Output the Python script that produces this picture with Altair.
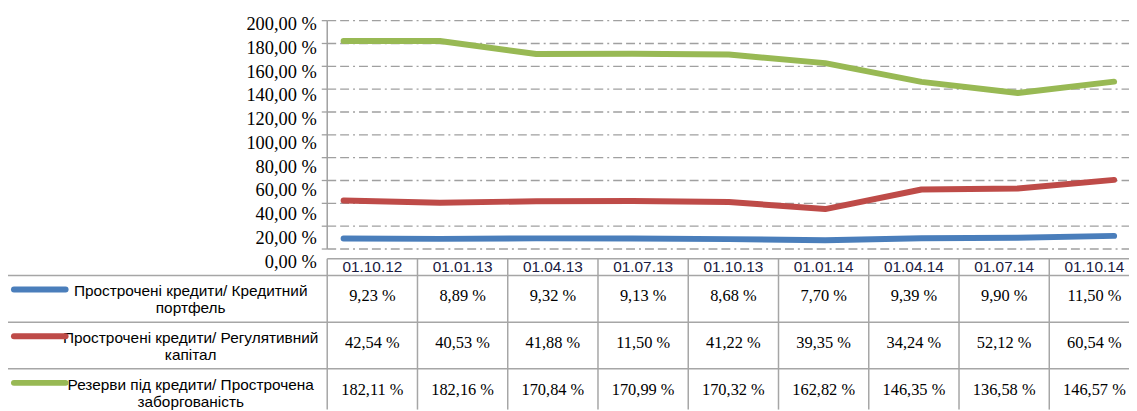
import altair as alt
import pandas as pd

dates = ["01.10.12", "01.01.13", "01.04.13", "01.07.13", "01.10.13",
         "01.01.14", "01.04.14", "01.07.14", "01.10.14"]
series = ["Прострочені кредити/ Кредитний портфель",
          "Прострочені кредити/ Регулятивний капітал",
          "Резерви під кредити/ Прострочена заборгованість"]
series_wrapped = ["Прострочені кредити/ Кредитний\nпортфель",
                  "Прострочені кредити/ Регулятивний\nкапітал",
                  "Резерви під кредити/ Прострочена\nзаборгованість"]
colors = ["#4a7ebb", "#be4b48", "#98b954"]

# line values
blue_vals = [9.23, 8.89, 9.32, 9.13, 8.68, 7.70, 9.39, 9.90, 11.50]
red_vals = [42.54, 40.53, 41.88, 42.0, 41.22, 35.0, 52.12, 53.0, 60.54]
green_vals = [182.11, 182.16, 170.84, 170.99, 170.32, 162.82, 146.35, 136.58, 146.57]

# table texts as printed
table_blue = ["9,23 %", "8,89 %", "9,32 %", "9,13 %", "8,68 %", "7,70 %", "9,39 %", "9,90 %", "11,50 %"]
table_red = ["42,54 %", "40,53 %", "41,88 %", "11,50 %", "41,22 %", "39,35 %", "34,24 %", "52,12 %", "60,54 %"]
table_green = ["182,11 %", "182,16 %", "170,84 %", "170,99 %", "170,32 %", "162,82 %", "146,35 %", "136,58 %", "146,57 %"]

y_ticks = [0, 20, 40, 60, 80, 100, 120, 140, 160, 180, 200]
y_tick_labels = ["0,00 %", "20,00 %", "40,00 %", "60,00 %", "80,00 %", "100,00 %",
                 "120,00 %", "140,00 %", "160,00 %", "180,00 %", "200,00 %"]

SERIF = "Liberation Serif, Times New Roman, DejaVu Serif, serif"
SANS = "Liberation Sans, Arial, sans-serif"

# ---------- data frames ----------
rows = []
for s, vals in zip(series, [blue_vals, red_vals, green_vals]):
    for i, (d, v) in enumerate(zip(dates, vals)):
        rows.append({"date": d, "series": s, "value": v, "i": i})
line_df = pd.DataFrame(rows)

cells = []
for s, labs in zip(series, [table_blue, table_red, table_green]):
    for d, l in zip(dates, labs):
        cells.append({"date": d, "series": s, "label": l})
cell_df = pd.DataFrame(cells)

ticks_df = pd.DataFrame({"v": y_ticks, "label": y_tick_labels})
series_df = pd.DataFrame({"series": series, "wrapped": series_wrapped})
dates_df = pd.DataFrame({"date": dates})
axis_df = pd.DataFrame({"lo": [0], "hi": [200]})

# ---------- scales ----------
x_line = alt.Scale(type="point", domain=dates, range=[338, 1114], padding=0)
y_line = alt.Scale(domain=[0, 200], range=[241.3, 11.3], nice=False, zero=False)
y_lab = alt.Scale(domain=[0, 200], range=[254, 14.7], nice=False, zero=False)
x_tab = alt.Scale(type="band", domain=dates, range=[321.5, 1139.6], paddingInner=0, paddingOuter=0)
y_tab = alt.Scale(type="band", domain=series, range=[268, 409], paddingInner=0, paddingOuter=0)
col_scale = alt.Scale(domain=series, range=colors)

grid_gray = "#a0a0a0"
tab_gray = "#a6a6a6"

grid = alt.Chart(ticks_df).mark_rule(color=grid_gray, strokeWidth=1.3,
                                     strokeDash=[9, 4, 9, 4, 2, 4]).encode(
    y=alt.Y("v:Q", scale=y_line, axis=None),
    x=alt.value(321.5), x2=alt.value(1129))

tickmarks = alt.Chart(ticks_df).mark_rule(color=grid_gray, strokeWidth=1.3).encode(
    y=alt.Y("v:Q", scale=y_line, axis=None),
    x=alt.value(316), x2=alt.value(321.5))

axis_line = alt.Chart(axis_df).mark_rule(color=grid_gray, strokeWidth=1.5).encode(
    y=alt.Y("lo:Q", scale=y_line, axis=None), y2="hi:Q",
    x=alt.value(321.5))

ylabels = alt.Chart(ticks_df).mark_text(font=SERIF, fontSize=18.5, align="right",
                                        baseline="middle", color="#000000").encode(
    y=alt.Y("v:Q", scale=y_lab, axis=None),
    x=alt.value(311), text="label:N")

lines = alt.Chart(line_df).mark_line(strokeWidth=6, strokeCap="round", strokeJoin="round").encode(
    x=alt.X("date:N", scale=x_line, axis=None, sort=dates),
    y=alt.Y("value:Q", scale=y_line, axis=None),
    color=alt.Color("series:N", scale=col_scale, legend=None),
    order="i:Q")

header = alt.Chart(dates_df).mark_text(font=SANS, fontSize=15.5, align="center",
                                       baseline="middle", color="#1a1a40").encode(
    x=alt.X("date:N", scale=x_tab, axis=None, bandPosition=0.5),
    y=alt.value(259), text="date:N")

values = alt.Chart(cell_df).mark_text(font=SERIF, fontSize=16.5, align="center",
                                      baseline="middle", color="#000000").encode(
    x=alt.X("date:N", scale=x_tab, axis=None, bandPosition=0.5),
    y=alt.Y("series:N", scale=y_tab, axis=None, bandPosition=0.45),
    text="label:N")

rowlabels = alt.Chart(series_df).mark_text(font=SANS, fontSize=15.5, align="center",
                                           baseline="middle", lineBreak="\n", lineHeight=17,
                                           color="#000000").encode(
    y=alt.Y("series:N", scale=y_tab, axis=None, bandPosition=0.34),
    x=alt.value(184), text="wrapped:N")

swatches = alt.Chart(series_df).mark_rule(strokeWidth=6, strokeCap="round").encode(
    y=alt.Y("series:N", scale=y_tab, axis=None, bandPosition=0.3),
    x=alt.value(6), x2=alt.value(58),
    color=alt.Color("series:N", scale=col_scale, legend=None))

hlines = alt.Chart(series_df).mark_rule(color=tab_gray, strokeWidth=1.5).encode(
    y=alt.Y("series:N", scale=y_tab, axis=None, bandPosition=0),
    x=alt.value(-1), x2=alt.value(1129))

header_top = alt.Chart(axis_df).mark_rule(color=tab_gray, strokeWidth=1.5).encode(
    y=alt.value(251), x=alt.value(321.5), x2=alt.value(1129))

vlines = alt.Chart(dates_df).mark_rule(color=tab_gray, strokeWidth=1.5).encode(
    x=alt.X("date:N", scale=x_tab, axis=None, bandPosition=0),
    y=alt.value(251), y2=alt.value(403))

left_border = alt.Chart(axis_df).mark_rule(color=tab_gray, strokeWidth=1.5).encode(
    x=alt.value(-1), y=alt.value(268), y2=alt.value(403))

chart = alt.layer(
    grid, tickmarks, axis_line, ylabels, lines,
    hlines, header_top, vlines, left_border,
    header, values, rowlabels, swatches
).resolve_scale(x="independent", y="independent").properties(
    width=1129, height=403,
    autosize=alt.AutoSizeParams(type="none"),
    padding=0, background="#ffffff"
).configure_view(stroke=None)

chart.save("out.html", embed_options={"renderer": "svg", "actions": False})
